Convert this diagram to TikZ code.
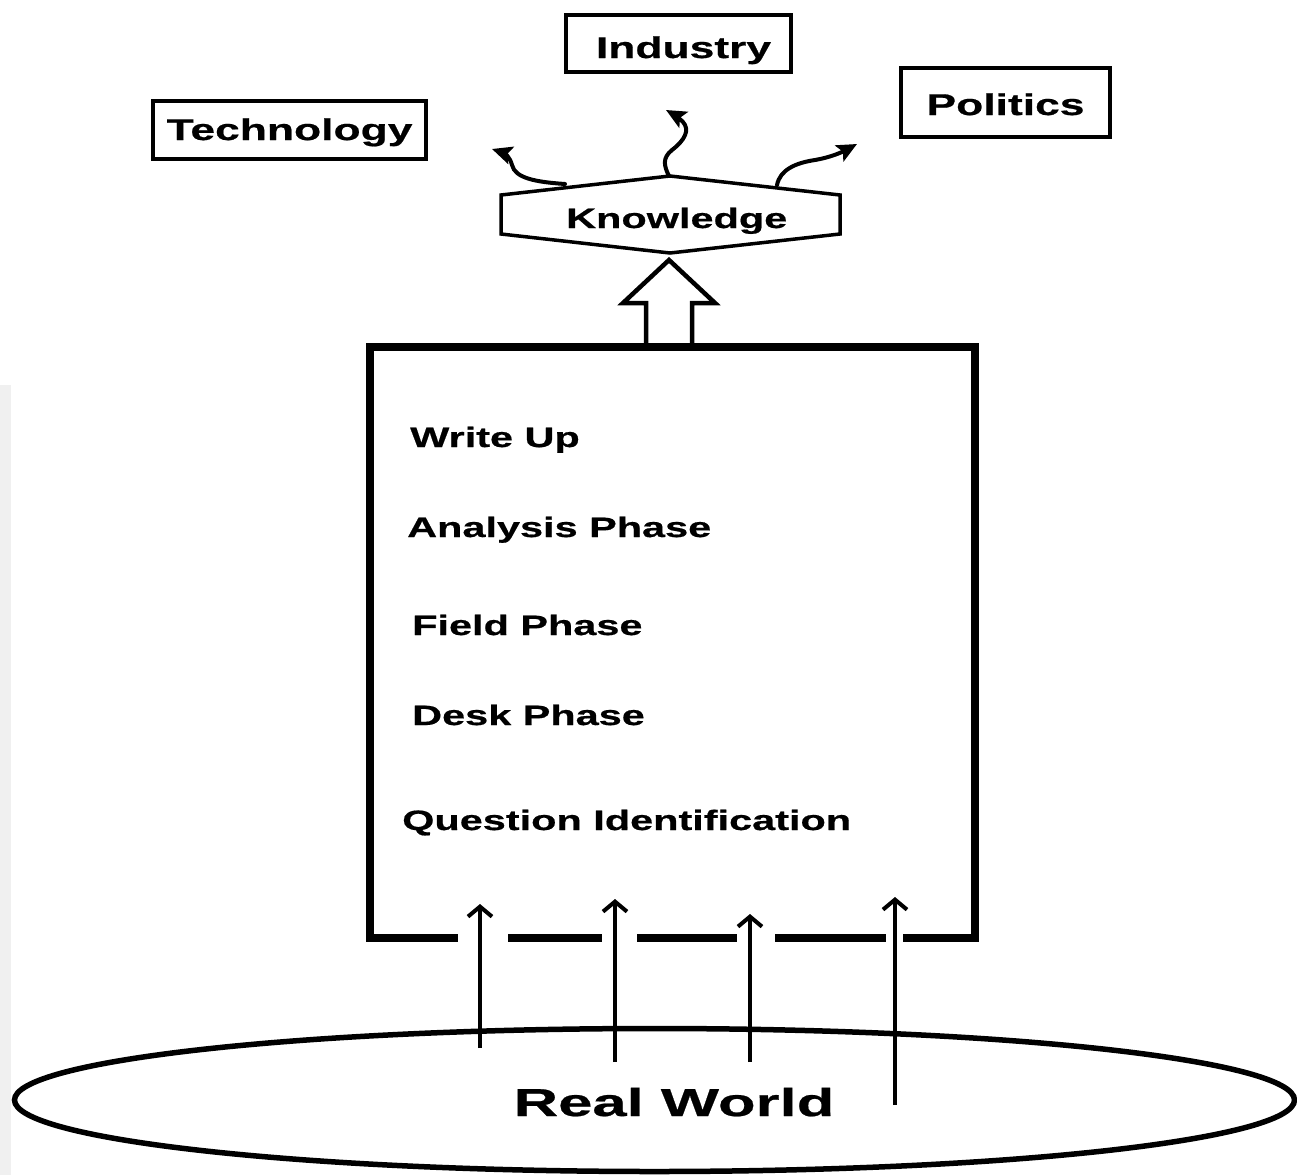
\documentclass[tikz,border=0pt]{standalone}
\usepackage{fontspec}
\newfontfamily\wf[FakeStretch=1.48,FakeBold=0.6]{Liberation Sans}
\newfontfamily\wfr[FakeStretch=1.58,FakeBold=0.6]{Liberation Sans}
\usetikzlibrary{arrows.meta,calc,shapes.geometric}
\begin{document}
\begin{tikzpicture}[x=1pt,y=-1pt,
  lbl/.style={font=\fontsize{28}{32}\selectfont\wf\bfseries, inner sep=0pt},
  phase/.style={lbl, anchor=base west},
  topbox/.style={draw, line width=4pt, font=\fontsize{30}{34}\selectfont\wf\bfseries, inner sep=0pt, text depth=0pt},
  wavy/.style={line width=4pt, line cap=round, -{Stealth[length=20pt,width=18pt,inset=4pt]}},
  inarrow/.style={line width=4pt, -{Straight Barb[length=10pt,width=24pt,line width=4pt]}},
]
\useasboundingbox (0,0) rectangle (1297,1175);
\fill[gray!12] (0,385) rectangle (11,1175);

% top boxes
\node[topbox, minimum width=273pt, minimum height=58pt, text height=20pt] (tech) at (289.5,130) {Technology};
\node[topbox, minimum width=225pt, minimum height=57pt, text height=29pt] (ind) at (678.5,43.5) {\hspace*{10pt}Industry};
\node[topbox, minimum width=209pt, minimum height=69pt, text height=25pt] (pol) at (1005.5,102.5) {Politics};

% knowledge hexagon
\node[lbl, anchor=base west] (know) at (566,228) {Knowledge};
\draw[line width=3.5pt, line join=miter] (501,195) -- (670,176) -- (840,195) -- (840,234) -- (670,253) -- (501,234) -- cycle;

% wavy arrows
\coordinate (w1s) at (565,184); \coordinate (w1e) at (492,149);
\coordinate (w2s) at (669,176); \coordinate (w2e) at (666,110);
\coordinate (w3s) at (777,185); \coordinate (w3e) at (857,144);
\draw[wavy] (w1s) .. controls (535,182) and (515,178) .. (512,165) .. controls (510,157) and (504,153) .. (w1e);
\draw[wavy] (w2s) .. controls (664,166) and (662,158) .. (672,150) .. controls (685,140) and (690,130) .. (683,122) .. controls (679,118) and (675,115) .. (w2e);
\draw[wavy] (w3s) .. controls (780,170) and (795,163) .. (815,160) .. controls (832,157) and (842,152) .. (w3e);

% main process box
\node[minimum width=605pt, minimum height=591pt, inner sep=0pt] (proc) at (672.5,642.5) {};
\draw[line width=8pt, line join=miter] ($(proc.south west)+(88,0)$) -- (proc.south west) -- (proc.north west) -- (proc.north east) -- (proc.south east) -- ($(proc.south east)+(-72,0)$);
\draw[line width=8pt] (508,938) -- (602,938);
\draw[line width=8pt] (637,938) -- (737,938);
\draw[line width=8pt] (775,938) -- (886,938);

% hollow arrow to knowledge
\draw[line width=4.5pt, line join=miter] (646,347) -- (646,303) -- (623,303) -- (669,260) -- (715,303) -- (692,303) -- (692,347);

% phases
\node[phase] (wu) at (410,447) {Write Up};
\node[phase] (an) at (407,537) {Analysis Phase};
\node[phase] (fp) at (412,635) {Field Phase};
\node[phase] (dp) at (412,725) {Desk Phase};
\node[phase] (qi) at (402,830) {Question Identification};

% real world
\node[draw, ellipse, line width=5.5pt, minimum width=1280pt, minimum height=143pt, inner sep=0pt] (world) at (654.5,1100) {};
\node[font=\fontsize{39}{44}\selectfont\wfr\bfseries, inner sep=0pt, anchor=base] (rwl) at (674,1116) {Real World};

% input arrows
\coordinate (a1s) at (480,1048); \coordinate (a1e) at (480,904);
\coordinate (a2s) at (615,1062); \coordinate (a2e) at (615,899);
\coordinate (a3s) at (750,1062); \coordinate (a3e) at (750,914);
\coordinate (a4s) at (895,1105); \coordinate (a4e) at (895,897);
\draw[inarrow] (a1s) -- (a1e);
\draw[inarrow] (a2s) -- (a2e);
\draw[inarrow] (a3s) -- (a3e);
\draw[inarrow] (a4s) -- (a4e);
\end{tikzpicture}
\end{document}
